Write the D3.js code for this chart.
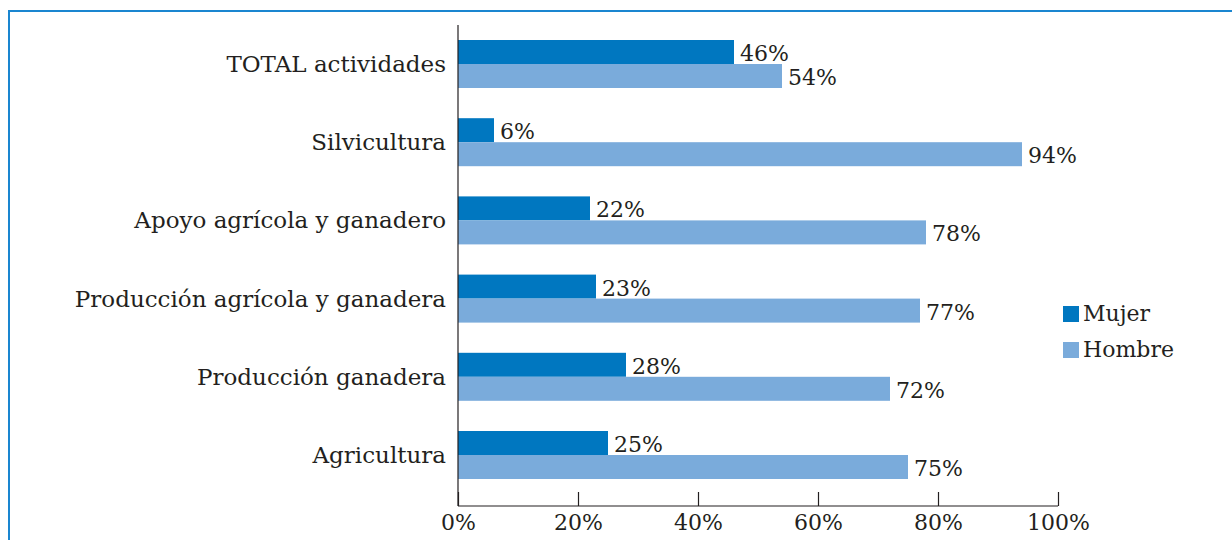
<!DOCTYPE html>
<html>
<head>
<meta charset="utf-8">
<script src="https://cdn.jsdelivr.net/npm/d3@7"></script>
<style>
html,body{margin:0;padding:0;background:#fff;}
svg{display:block;}
</style>
</head>
<body>
<svg id="chart" width="1232" height="540"></svg>
<script>
const categories = ["TOTAL actividades","Silvicultura","Apoyo agrícola y ganadero","Producción agrícola y ganadera","Producción ganadera","Agricultura"];
const mujer = [46, 6, 22, 23, 28, 25];
const hombre = [54, 94, 78, 77, 72, 75];
const seriesNames = ["Mujer","Hombre"];
const seriesColors = ["#0077c0","#7aabdb"];
const tickValues = [0,20,40,60,80,100];

const FONT = "DejaVu Serif";
const svg = d3.select("#chart");

// frame
svg.append("path")
  .attr("d","M9,1240 L9,11 L1240,11")
  .attr("fill","none").attr("stroke","#1a86d0").attr("stroke-width",2);

const x = d3.scaleLinear().domain([0,100]).range([458,1058]);
const y = d3.scalePoint().domain(categories).range([64,455]);
const barH = 24;

const g = svg.append("g");

categories.forEach((c,i)=>{
  const vals = [mujer[i], hombre[i]];
  vals.forEach((v,s)=>{
    const top = y(c) - barH + s*barH;
    g.append("rect")
      .attr("x", x(0)).attr("y", top)
      .attr("width", x(v)-x(0)).attr("height", barH)
      .attr("fill", seriesColors[s]);
    g.append("text")
      .attr("x", x(v)+6).attr("y", top+barH-3)
      .attr("font-family",FONT).attr("font-size",22).attr("fill","#231f20")
      .text(v+"%");
  });
  g.append("text")
    .attr("x", 446).attr("y", y(c)+8)
    .attr("text-anchor","end")
    .attr("font-family",FONT).attr("font-size",23).attr("fill","#231f20")
    .text(c);
});

// y axis line
svg.append("line").attr("x1",x(0)).attr("x2",x(0)).attr("y1",25).attr("y2",506)
  .attr("stroke","#231f20").attr("stroke-width",1.2);

// x axis
const xAxis = d3.axisTop(x).tickValues(tickValues).tickSize(14).tickFormat(d=>d+"%");
const ax = svg.append("g").attr("transform","translate(0,506)").call(xAxis);
ax.select(".domain").attr("stroke","#231f20").attr("stroke-width",1.2).attr("d",`M${x(0)},0H${x(100)}`);
ax.selectAll(".tick line").attr("stroke","#231f20").attr("stroke-width",1.2);
ax.selectAll(".tick text").attr("y",24).attr("dy",0)
  .attr("font-family",FONT).attr("font-size",22).attr("fill","#231f20");

// legend
seriesNames.forEach((n,i)=>{
  const ly = 306 + i*36;
  svg.append("rect").attr("x",1063).attr("y",ly).attr("width",16).attr("height",16).attr("fill",seriesColors[i]);
  svg.append("text").attr("x",1083).attr("y",ly+15)
    .attr("font-family",FONT).attr("font-size",22).attr("fill","#231f20").text(n);
});
</script>
</body>
</html>
